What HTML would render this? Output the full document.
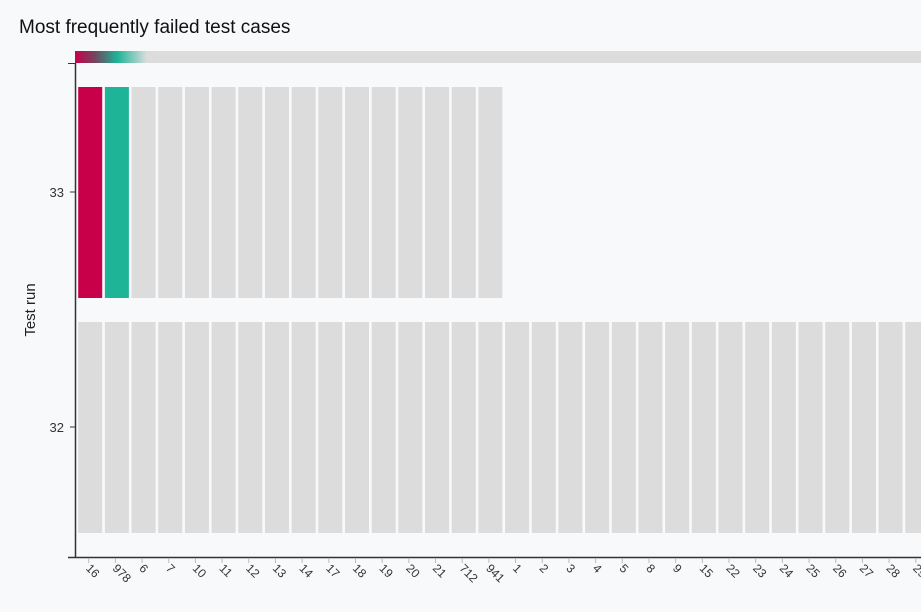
<!DOCTYPE html>
<html><head><meta charset="utf-8"><style>
html,body{margin:0;padding:0;background:#f8f9fb;width:921px;height:612px;overflow:hidden}
</style></head><body>
<svg width="921" height="612" xmlns="http://www.w3.org/2000/svg" font-family="Liberation Sans, sans-serif">
<defs><linearGradient id="g" gradientUnits="userSpaceOnUse" x1="75" x2="921" y1="0" y2="0">
<stop offset="0" stop-color="#c8004a"/><stop offset="0.025" stop-color="#6f4a60"/>
<stop offset="0.05" stop-color="#1db497"/><stop offset="0.085" stop-color="#dcdcdc"/><stop offset="1" stop-color="#dcdcdc"/>
</linearGradient></defs>
<text x="19" y="33" font-size="19" fill="#111">Most frequently failed test cases</text>
<rect x="75" y="51" width="846" height="12" fill="url(#g)"/>
<g id="bars"></g>
<line x1="75.5" y1="63" x2="75.5" y2="558" stroke="#333" stroke-width="1.5"/>
<line x1="68" y1="557.5" x2="921" y2="557.5" stroke="#333" stroke-width="1.5"/>
<line x1="68" y1="63.5" x2="75" y2="63.5" stroke="#333"/>
<line x1="70" y1="192" x2="75" y2="192" stroke="#333"/>
<line x1="70" y1="427" x2="75" y2="427" stroke="#333"/>
<text x="64" y="197" font-size="13" fill="#333" text-anchor="end">33</text>
<text x="64" y="432" font-size="13" fill="#333" text-anchor="end">32</text>
<text transform="translate(35,310) rotate(-90)" font-size="15" fill="#222" text-anchor="middle">Test run</text>
<g id="ticks"></g>
</svg>
<script>
var labels=["16","978","6","7","10","11","12","13","14","17","18","19","20","21","712","941","1","2","3","4","5","8","9","15","22","23","24","25","26","27","28","29"];
var b="",t="";
for(var i=0;i<32;i++){
 var c=90.2+26.68*i;
 var fill=i==0?"#c8004a":(i==1?"#1db497":"#dcdcdc");
 if(i<16)b+='<rect x="'+(c-12)+'" y="87" width="24" height="211" fill="'+fill+'"/>';
 b+='<rect x="'+(c-12)+'" y="322" width="24" height="211" fill="#dcdcdc"/>';
 t+='<line x1="'+(c-1.5)+'" y1="558" x2="'+(c-1.5)+'" y2="563" stroke="#bbb"/>';
 t+='<text transform="translate('+(c-5)+',569) rotate(45)" font-size="12" fill="#333">'+labels[i]+'</text>';
}
document.getElementById("bars").innerHTML=b;
document.getElementById("ticks").innerHTML=t;
</script>
</body></html>
